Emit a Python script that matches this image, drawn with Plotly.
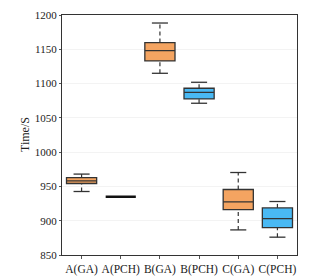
import plotly.graph_objects as go

categories = ["A(GA)", "A(PCH)", "B(GA)", "B(PCH)", "C(GA)", "C(PCH)"]
lower = [942.6, 935.0, 1115.0, 1071.3, 886.6, 876.0]
q1 = [954.3, 935.0, 1133.0, 1077.6, 916.3, 890.0]
median = [958.0, 935.0, 1148.0, 1087.3, 927.4, 903.0]
q3 = [962.7, 935.0, 1159.8, 1093.2, 945.5, 918.7]
upper = [968.0, 935.0, 1188.3, 1101.9, 970.3, 928.0]
methods = ["GA", "PCH", "GA", "PCH", "GA", "PCH"]
y_ticks = [850, 900, 950, 1000, 1050, 1100, 1150, 1200]
y_title = "Time/S"

colors = {"GA": "#F4A461", "PCH": "#49B9F4"}
edge = "#333333"
box_w = 0.77
cap_half = 0.205
serif = "'Times New Roman', 'Liberation Serif', serif"

fig = go.Figure()

for i, cat in enumerate(categories):
    # dashed whiskers
    for a, b in ((q3[i], upper[i]), (lower[i], q1[i])):
        if b > a:
            fig.add_trace(go.Scatter(
                x=[i, i], y=[a, b], mode="lines",
                line=dict(color=edge, width=1.2, dash="4px,3px"),
                showlegend=False, hoverinfo="skip"))
    # caps
    for v in (lower[i], upper[i]):
        if upper[i] > lower[i]:
            fig.add_trace(go.Scatter(
                x=[i - cap_half, i + cap_half], y=[v, v], mode="lines",
                line=dict(color=edge, width=1.3),
                showlegend=False, hoverinfo="skip"))
    fig.add_trace(go.Box(
        x=[i], q1=[q1[i]], median=[median[i]], q3=[q3[i]],
        lowerfence=[q1[i]], upperfence=[q3[i]],
        width=box_w, whiskerwidth=0,
        fillcolor=colors[methods[i]],
        line=dict(color="#111111" if q3[i] == q1[i] else edge,
                  width=2.6 if q3[i] == q1[i] else 1.3),
        showlegend=False, boxpoints=False, name=cat))

fig.add_annotation(
    text=y_title, xref="paper", yref="paper", x=0, y=0.5,
    xanchor="center", yanchor="middle", xshift=-37, textangle=-90,
    showarrow=False, font=dict(family=serif, size=12, color="#222222"),
)

fig.update_layout(
    width=324, height=277,
    margin=dict(l=62, r=27, t=15, b=22, autoexpand=False),
    paper_bgcolor="white", plot_bgcolor="white",
    font=dict(family=serif, size=11, color="#222222"),
    showlegend=False,
)
fig.update_xaxes(
    range=[-0.5, 5.5], tickvals=list(range(len(categories))), ticktext=categories,
    showgrid=False, zeroline=False, automargin=False,
    showline=True, linecolor="#333333", linewidth=1.3, mirror=True,
    ticks="outside", ticklen=3, tickcolor="#555555", tickwidth=1,
    tickfont=dict(family=serif, size=11.5),
)
fig.update_yaxes(
    range=[850, 1200], tickvals=y_ticks, automargin=False,
    showgrid=True, gridcolor="#f3f3f3", gridwidth=1, zeroline=False,
    showline=True, linecolor="#333333", linewidth=1.3, mirror=True,
    ticks="outside", ticklen=2, tickcolor="#555555", tickwidth=1,
    tickfont=dict(family=serif, size=11),
)

fig.write_html(
    "out.html",
    config={"displayModeBar": False},
    post_script="document.body.style.margin='0';document.body.style.overflow='hidden';",
)
